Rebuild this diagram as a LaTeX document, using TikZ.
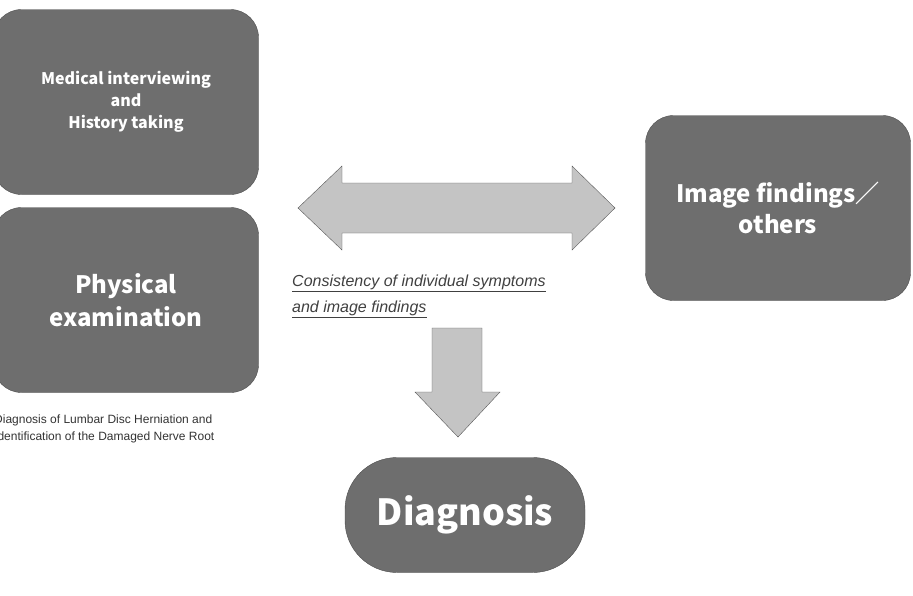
\documentclass[tikz,border=0pt]{standalone}
\usepackage{fontspec}
\setmainfont{Noto Sans CJK JP}
\newfontfamily\labelfont{Liberation Sans}
\tikzset{box/.style={fill=boxgray,draw=boxgray!70!black,rounded corners=28pt,text=white,font=\bfseries,align=center,inner sep=0pt}}
\definecolor{boxgray}{HTML}{6E6E6E}
\definecolor{arrowgray}{HTML}{C4C4C4}
\begin{document}
\begin{tikzpicture}[x=1pt,y=-1pt]
  \useasboundingbox (0,0) rectangle (913,595);
  \clip (0,0) rectangle (913,595);
  % boxes
  \node[box,minimum width=265pt,minimum height=185pt,font=\bfseries\fontsize{16}{22}\selectfont] (hist) at (126,102)
    {Medical interviewing\\and\\History taking};
  \node[box,minimum width=265pt,minimum height=185pt,font=\bfseries\fontsize{24}{33}\selectfont] (phys) at (126,300)
    {Physical\\examination};
  \node[box,minimum width=265pt,minimum height=185pt,font=\bfseries\fontsize{24}{31}\selectfont] (img) at (778,208)
    {Image findings／\\others};
  \node[box,rounded corners=52pt,minimum width=240pt,minimum height=115pt,font=\bfseries\fontsize{36}{44}\selectfont] (diag) at (465,515)
    {Diagnosis};
  % double arrow
  \coordinate (dl) at (298,208);
  \coordinate (dr) at (615,208);
  \draw[fill=arrowgray,draw=boxgray!80!black] (dl) -- (342,166) -- (342,183) -- (572,183) -- (572,166) -- (dr)
    -- (572,250) -- (572,233) -- (342,233) -- (342,250) -- cycle;
  % down arrow
  \draw[fill=arrowgray,draw=boxgray!80!black] (432,328) -- (482,328) -- (482,392) -- (500,392) -- (458,437)
    -- (415,392) -- (432,392) -- cycle;
  % labels
  \node[anchor=north west,align=left,inner sep=0pt,font=\labelfont\itshape\fontsize{16}{26}\selectfont,text=black!75] (cons) at (292,275)
    {\underline{Consistency of individual symptoms}\\\underline{and image findings}};
  \node[anchor=north west,align=left,inner sep=0pt,font=\labelfont\fontsize{12}{17}\selectfont,text=black!80] (cap) at (-6,415)
    {Diagnosis of Lumbar Disc Herniation and\\Identification of the Damaged Nerve Root};
\end{tikzpicture}
\end{document}
